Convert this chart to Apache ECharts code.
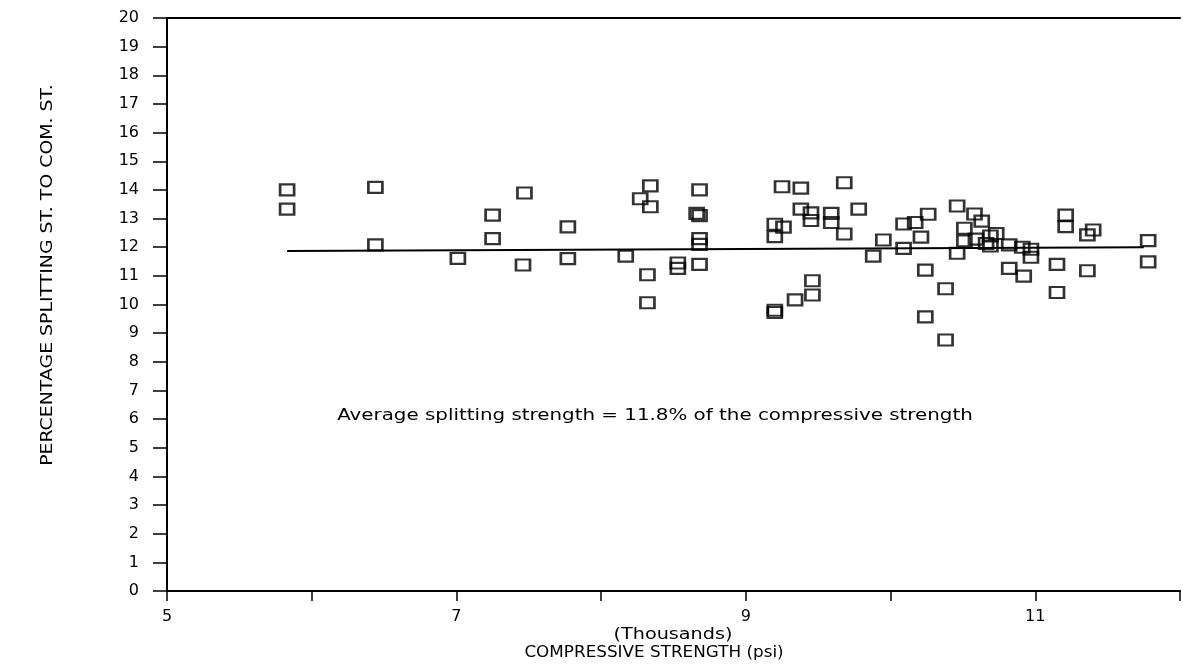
<!DOCTYPE html>
<html>
<head>
<meta charset="utf-8">
<script src="https://cdn.jsdelivr.net/npm/echarts@6/dist/echarts.min.js"></script>
<style>
  html, body { margin: 0; padding: 0; background: #fff; }
  #chart { width: 1183px; height: 668px; }
</style>
</head>
<body>
<div id="chart"></div>
<script>
// compressive strength (thousands psi)
var strength = [
    5.83, 5.83, 6.44, 6.44, 7.01, 7.25, 7.25, 7.47, 7.46, 7.77,
    7.77, 8.17, 8.34, 8.27, 8.34, 8.32, 8.32, 8.53, 8.53, 8.68,
    8.66, 8.68, 8.68, 8.68, 8.68, 9.25, 9.38, 9.68, 9.38, 9.45,
    9.45, 9.20, 9.26, 9.20, 9.59, 9.59, 9.68, 9.78, 9.95, 9.88,
    10.09, 10.09, 10.17, 10.26, 10.21, 10.24, 10.38, 10.24, 10.46, 10.46,
    9.46, 9.46, 9.34, 9.20, 9.20, 10.38, 10.58, 10.63, 10.51, 10.51,
    10.59, 10.69, 10.73, 10.69, 10.66, 10.82, 10.91, 10.97, 10.97, 10.82,
    10.92, 11.21, 11.21, 11.15, 11.15, 11.40, 11.36, 11.36, 11.78, 11.78
];
// splitting strength as % of compressive strength
var percentage = [
    14.00, 13.33, 14.09, 12.08, 11.61, 13.12, 12.30, 13.89, 11.38, 12.71,
    11.60, 11.69, 14.14, 13.69, 13.41, 11.04, 10.06, 11.45, 11.26, 14.00,
    13.18, 13.10, 12.30, 12.10, 11.40, 14.11, 14.06, 14.25, 13.33, 13.20,
    12.93, 12.80, 12.70, 12.37, 13.18, 12.86, 12.46, 13.33, 12.25, 11.69,
    11.96, 12.81, 12.86, 13.15, 12.35, 11.20, 10.55, 9.57, 13.44, 11.79,
    10.83, 10.33, 10.16, 9.80, 9.72, 8.76, 13.16, 12.91, 12.66, 12.22,
    12.28, 12.39, 12.48, 12.04, 12.13, 12.08, 12.00, 11.93, 11.65, 11.26,
    10.99, 13.12, 12.72, 11.40, 10.42, 12.60, 12.43, 11.18, 12.23, 11.49
];
// fitted line end points
var fitX = [5.83, 11.75];
var fitY = [11.87, 12.0];

var xLabels = [5, 7, 9, 11];
var noteText = 'Average splitting strength = 11.8% of the compressive strength';

var points = strength.map(function (x, i) { return [x, percentage[i]]; });
var fitLine = fitX.map(function (x, i) { return [x, fitY[i]]; });

var font = 'DejaVu Sans';

function label(text, x, y, size, sx, rot) {
    return {
        type: 'text', x: x, y: y, scaleX: sx || 1, rotation: rot || 0,
        style: {
            text: text, fill: '#000', font: size + 'px "DejaVu Sans"',
            textAlign: 'center', textVerticalAlign: 'middle'
        }
    };
}

var chart = echarts.init(document.getElementById('chart'));
chart.setOption({
    animation: false,
    backgroundColor: '#fff',
    grid: { left: 167, right: 0, top: 18, bottom: 77 },
    xAxis: [
        {
            type: 'value', min: 5, max: 12, interval: 1,
            axisLine: { lineStyle: { color: '#000', width: 2 } },
            axisTick: { show: true, length: 10, lineStyle: { color: '#000', width: 1.5 } },
            axisLabel: {
                color: '#000', fontFamily: font, fontSize: 16, margin: 18,
                formatter: function (v) { return xLabels.indexOf(v) >= 0 ? String(v) : ''; }
            },
            splitLine: { show: false }
        },
        {
            type: 'value', position: 'top', min: 5, max: 12,
            axisLine: { show: true, onZero: false, lineStyle: { color: '#000', width: 2 } },
            axisTick: { show: false }, axisLabel: { show: false }, splitLine: { show: false }
        }
    ],
    yAxis: {
        type: 'value', min: 0, max: 20, interval: 1,
        axisLine: { show: true, lineStyle: { color: '#000', width: 2 } },
        axisTick: { show: true, length: 14, lineStyle: { color: '#000', width: 1.5 } },
        axisLabel: { color: '#000', fontFamily: font, fontSize: 16, margin: 28 },
        splitLine: { show: false }
    },
    graphic: [
        label('PERCENTAGE SPLITTING ST. TO COM. ST.', 48, 275, 16, 1.18, Math.PI / 2),
        label('(Thousands)', 673, 635, 16, 1.2),
        label('COMPRESSIVE STRENGTH (psi)', 654, 653, 16, 1.05),
        label(noteText, 655, 416, 16, 1.24)
    ],
    series: [
        {
            type: 'scatter',
            data: points,
            symbol: 'rect',
            symbolSize: [14, 11],
            itemStyle: { color: 'rgba(0,0,0,0)', borderColor: '#000', borderWidth: 2.4 }
        },
        {
            type: 'line',
            data: fitLine,
            symbol: 'none',
            lineStyle: { color: '#000', width: 2 }
        }
    ]
});
</script>
</body>
</html>
